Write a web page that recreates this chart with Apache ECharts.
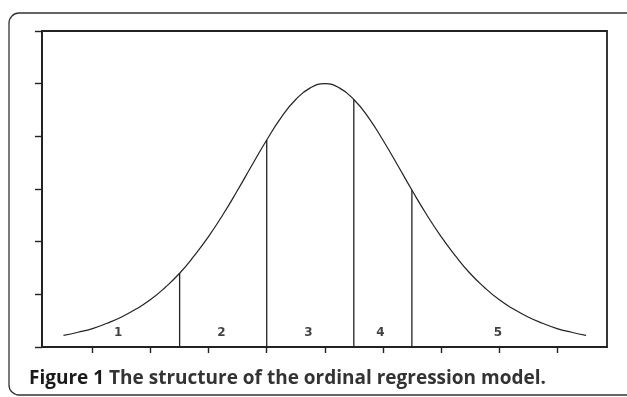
<!DOCTYPE html>
<html>
<head>
<meta charset="utf-8">
<script src="https://cdn.jsdelivr.net/npm/echarts@6/dist/echarts.min.js"></script>
<style>
  html, body { margin: 0; padding: 0; background: #fff; }
  #main { width: 627px; height: 397px; }
</style>
</head>
<body>
<div id="main"></div>
<script>
// curve points (x in axis units, y in axis units)
var curveX = [-4.5, -4.25, -4, -3.75, -3.5, -3.25, -3, -2.75, -2.5, -2.25, -2, -1.75, -1.5, -1.25, -1, -0.75, -0.5, -0.25,
  0, 0.25, 0.5, 0.75, 1, 1.25, 1.5, 1.75, 2, 2.25, 2.5, 2.75, 3, 3.25, 3.5, 3.75, 4, 4.25, 4.5];
var curveY = [0.22, 0.28, 0.35, 0.45, 0.57, 0.72, 0.9, 1.13, 1.4, 1.73, 2.1, 2.52, 2.98, 3.46, 3.93, 4.36, 4.7, 4.92,
  5.0, 4.92, 4.7, 4.36, 3.93, 3.46, 2.98, 2.52, 2.1, 1.73, 1.4, 1.13, 0.9, 0.72, 0.57, 0.45, 0.35, 0.28, 0.22];

// thresholds (vertical lines) and their heights
var cutX = [-2.5, -1, 0.5, 1.5];
var cutY = [1.4, 3.93, 4.7, 2.98];

// category labels in each region
var catNames = ["1", "2", "3", "4", "5"];
var catX = [-3.56, -1.78, -0.28, 0.96, 2.98];
var catY = [0.27, 0.27, 0.27, 0.27, 0.27];

var xTicks = [-4, -3, -2, -1, 0, 1, 2, 3, 4];

var chart = echarts.init(document.getElementById("main"));

var series = [];
series.push({
  type: "line",
  data: curveX.map(function (x, i) { return [x, curveY[i]]; }),
  smooth: true,
  showSymbol: false,
  lineStyle: { color: "#222", width: 1.2 },
  animation: false
});
cutX.forEach(function (c, i) {
  series.push({
    type: "line",
    data: [[c, 0], [c, cutY[i]]],
    showSymbol: false,
    lineStyle: { color: "#222", width: 1.3 },
    animation: false
  });
});
series.push({
  type: "scatter",
  symbolSize: 0,
  data: catNames.map(function (n, i) { return { name: n, value: [catX[i], catY[i]] }; }),
  label: {
    show: true,
    position: "inside",
    formatter: "{b}",
    color: "#111",
    fontFamily: "DejaVu Sans",
    fontWeight: "bold",
    fontSize: 12
  },
  animation: false
});

chart.setOption({
  animation: false,
  title: {
    left: 24,
    top: 364,
    text: "{b|Figure 1} {n|The structure of the ordinal regression model.}",
    textStyle: {
      rich: {
        b: { fontFamily: "Open Sans", fontWeight: "bold", fontSize: 19, color: "#1a1a1a" },
        n: { fontFamily: "Open Sans", fontWeight: "bold", fontSize: 19, color: "#333" }
      }
    }
  },
  graphic: [{
    type: "rect",
    shape: { x: 9, y: 13, width: 640, height: 382, r: 10 },
    style: { fill: null, stroke: "#333", lineWidth: 1.3 },
    silent: true
  }],
  grid: {
    left: 42, right: 20, top: 31, bottom: 50,
    show: true, borderColor: "#222", borderWidth: 1.8, backgroundColor: "transparent"
  },
  xAxis: {
    type: "value",
    min: -4.87, max: 4.86,
    axisLine: { show: true, onZero: false, lineStyle: { color: "#222", width: 1.8 } },
    axisTick: { show: true, length: 6, customValues: xTicks, lineStyle: { color: "#222", width: 1.4 } },
    axisLabel: { show: false },
    splitLine: { show: false }
  },
  yAxis: {
    type: "value",
    min: 0, max: 6, interval: 1,
    axisLine: { show: true, onZero: false, lineStyle: { color: "#222", width: 1.8 } },
    axisTick: { show: true, length: 7, lineStyle: { color: "#222", width: 1.4 } },
    axisLabel: { show: false },
    splitLine: { show: false }
  },
  series: series
});
</script>
</body>
</html>
